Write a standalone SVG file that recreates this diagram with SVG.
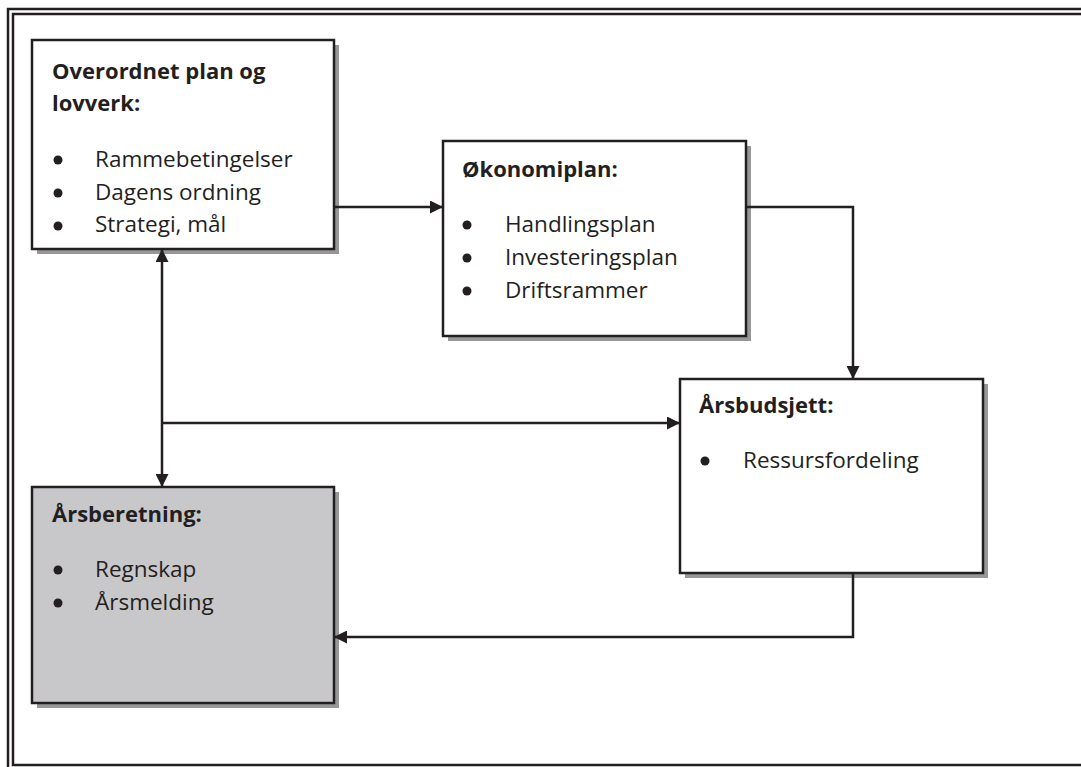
<svg xmlns="http://www.w3.org/2000/svg" width="1081" height="767" viewBox="0 0 1081 767">
<style>
.frame{fill:none;stroke:#231f20;stroke-width:2.5}
.box{stroke:#231f20;stroke-width:2.5}
.shadow{fill:#97979a}
.t{font-family:"Open Sans","Liberation Sans",sans-serif;font-size:22.5px;fill:#231f20}
.b{font-weight:bold;font-size:22px}
.dot{fill:#231f20}
.conn{fill:none;stroke:#231f20;stroke-width:2.5}
</style>
<defs>
<marker id="ah" markerWidth="13" markerHeight="13" refX="13" refY="6.5" orient="auto" markerUnits="userSpaceOnUse">
<path d="M0,0 L13,6.5 L0,13 Z" fill="#231f20"/>
</marker>
<marker id="ahs" markerWidth="13" markerHeight="13" refX="13" refY="6.5" orient="auto-start-reverse" markerUnits="userSpaceOnUse">
<path d="M0,0 L13,6.5 L0,13 Z" fill="#231f20"/>
</marker>
</defs>
<rect width="1081" height="767" fill="#fff"/>
<g id="frame">
<path class="frame" d="M1081,9 H8 V767"/>
<path class="frame" d="M1081,14 H13 V765 H1081"/>
</g>
<g id="node-overordnet">
<rect class="shadow" x="37" y="45" width="302" height="209"/>
<rect class="box" x="32" y="40" width="302" height="209" fill="#fff"/>
<text class="t b" x="52" y="79">Overordnet plan og</text>
<text class="t b" x="52" y="111">lovverk:</text>
<circle class="dot" cx="58" cy="160" r="4.5"/>
<circle class="dot" cx="58" cy="193" r="4.5"/>
<circle class="dot" cx="58" cy="226" r="4.5"/>
<text class="t" x="95" y="167">Rammebetingelser</text>
<text class="t" x="95" y="200">Dagens ordning</text>
<text class="t" x="95" y="232">Strategi, mål</text>
</g>
<g id="node-okonomiplan">
<rect class="shadow" x="448" y="146" width="303" height="195"/>
<rect class="box" x="443" y="141" width="303" height="195" fill="#fff"/>
<text class="t b" x="462" y="177">Økonomiplan:</text>
<circle class="dot" cx="467" cy="225" r="4.5"/>
<circle class="dot" cx="467" cy="258" r="4.5"/>
<circle class="dot" cx="467" cy="291" r="4.5"/>
<text class="t" x="505" y="232">Handlingsplan</text>
<text class="t" x="505" y="265">Investeringsplan</text>
<text class="t" x="505" y="298">Driftsrammer</text>
</g>
<g id="node-arsbudsjett">
<rect class="shadow" x="685" y="384" width="303" height="194"/>
<rect class="box" x="680" y="379" width="303" height="194" fill="#fff"/>
<text class="t b" x="699" y="413">Årsbudsjett:</text>
<circle class="dot" cx="705" cy="461" r="4.5"/>
<text class="t" x="743" y="468">Ressursfordeling</text>
</g>
<g id="node-arsberetning">
<rect class="shadow" x="37" y="492" width="302" height="216"/>
<rect class="box" x="32" y="487" width="302" height="216" fill="#c8c8ca"/>
<text class="t b" x="52" y="522">Årsberetning:</text>
<circle class="dot" cx="58" cy="570" r="4.5"/>
<circle class="dot" cx="58" cy="603" r="4.5"/>
<text class="t" x="95" y="577">Regnskap</text>
<text class="t" x="95" y="610">Årsmelding</text>
</g>
<g id="connectors">
<path class="conn" d="M334,207 H443" marker-end="url(#ah)"/>
<path class="conn" d="M746,207 H853 V379" marker-end="url(#ah)"/>
<path class="conn" d="M162,249 V487" marker-start="url(#ahs)" marker-end="url(#ah)"/>
<path class="conn" d="M162,423 H680" marker-end="url(#ah)"/>
<path class="conn" d="M853,573 V637 H334" marker-end="url(#ah)"/>
</g>
</svg>
